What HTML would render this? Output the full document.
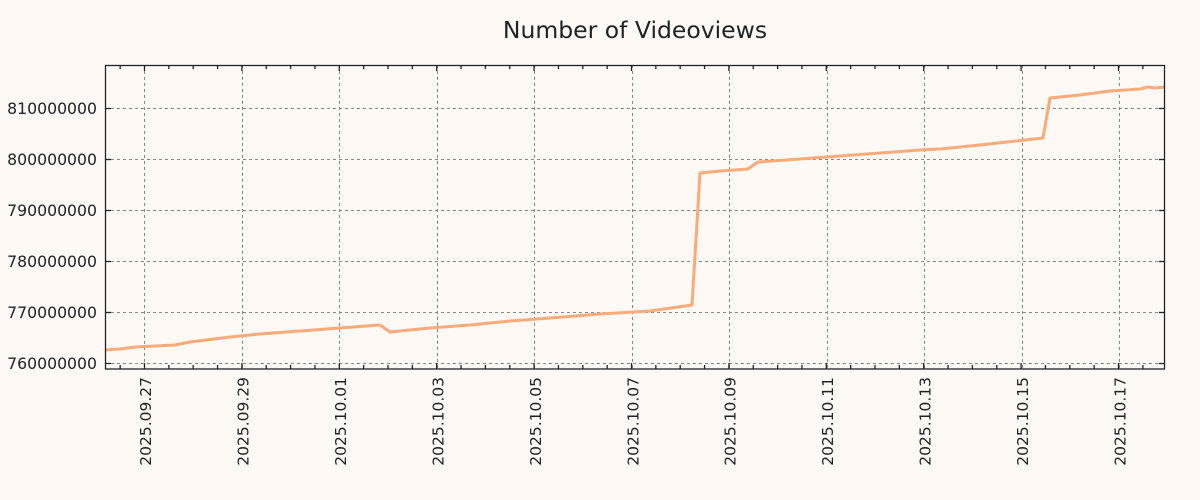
<!DOCTYPE html>
<html><head><meta charset="utf-8"><style>
html,body{margin:0;padding:0;background:#fef9f5;}
svg{display:block;font-family:"DejaVu Sans","Liberation Sans",sans-serif;}
</style></head><body>
<svg width="1200" height="500" viewBox="0 0 1200 500">
<rect width="1200" height="500" fill="#fef9f5"/>
<text x="635" y="38" text-anchor="middle" font-size="23.5" fill="#222">Number of Videoviews</text>
<g stroke="#888" stroke-width="1" stroke-dasharray="3,3" fill="none">
<line x1="105" y1="108.5" x2="1165" y2="108.5"/>
<line x1="105" y1="159.5" x2="1165" y2="159.5"/>
<line x1="105" y1="210.5" x2="1165" y2="210.5"/>
<line x1="105" y1="261.5" x2="1165" y2="261.5"/>
<line x1="105" y1="312.5" x2="1165" y2="312.5"/>
<line x1="105" y1="363.5" x2="1165" y2="363.5"/>
<line x1="144.5" y1="65" x2="144.5" y2="369"/>
<line x1="242.5" y1="65" x2="242.5" y2="369"/>
<line x1="339.5" y1="65" x2="339.5" y2="369"/>
<line x1="437.5" y1="65" x2="437.5" y2="369"/>
<line x1="534.5" y1="65" x2="534.5" y2="369"/>
<line x1="632.5" y1="65" x2="632.5" y2="369"/>
<line x1="729.5" y1="65" x2="729.5" y2="369"/>
<line x1="827.5" y1="65" x2="827.5" y2="369"/>
<line x1="924.5" y1="65" x2="924.5" y2="369"/>
<line x1="1022.5" y1="65" x2="1022.5" y2="369"/>
<line x1="1119.5" y1="65" x2="1119.5" y2="369"/>
</g>
<polyline fill="none" stroke="#fbab78" stroke-width="3" stroke-linejoin="round" points="105,350 120,349 135,347 175,345 190,342 230,337 260,334 300,331 340,328 380,325 390,332 430,328 470,325 510,321 550,318 600,314 650,311 692,305 700,173 720,171 748,169 758,162 800,159 840,156 880,153 920,150 940,149 980,145 1043,138 1050,98 1080,95 1110,91 1140,89 1148,87 1155,88 1165,87"/>
<rect x="105.5" y="65.5" width="1059" height="303.5" fill="none" stroke="#222" stroke-width="1.3"/>
<g stroke="#222" stroke-width="1.3" id="ticks"></g>
<g font-size="15.7" fill="#222" text-anchor="end">
<text x="97" y="114">810000000</text>
<text x="97" y="165">800000000</text>
<text x="97" y="216">790000000</text>
<text x="97" y="267">780000000</text>
<text x="97" y="318">770000000</text>
<text x="97" y="369">760000000</text>
</g>
<g font-size="15.5" fill="#222" text-anchor="end" id="xl"></g>
</svg>
<script>
var ns="http://www.w3.org/2000/svg",t=document.getElementById("ticks"),xl=document.getElementById("xl");
function L(a,b,c,d){var l=document.createElementNS(ns,"line");l.setAttribute("x1",a);l.setAttribute("y1",b);l.setAttribute("x2",c);l.setAttribute("y2",d);t.appendChild(l);}
[108.5,159.5,210.5,261.5,312.5,363.5].forEach(function(y){L(105,y,111,y);L(1165,y,1159,y);});
var d=["2025.09.27","2025.09.29","2025.10.01","2025.10.03","2025.10.05","2025.10.07","2025.10.09","2025.10.11","2025.10.13","2025.10.15","2025.10.17"];
for(var i=-1;i<46;i++){var x=144.5+i*24.35;if(x<106||x>1164)continue;var maj=(i%4===0);var h=maj?6:4;L(x,65,x,65+h);L(x,369,x,369-h);}
d.forEach(function(s,i){var x=144.5+i*97.45;var e=document.createElementNS(ns,"text");e.setAttribute("transform","translate("+(x+6.5)+",377) rotate(-90)");e.textContent=s;xl.appendChild(e);});
</script>
</body></html>
